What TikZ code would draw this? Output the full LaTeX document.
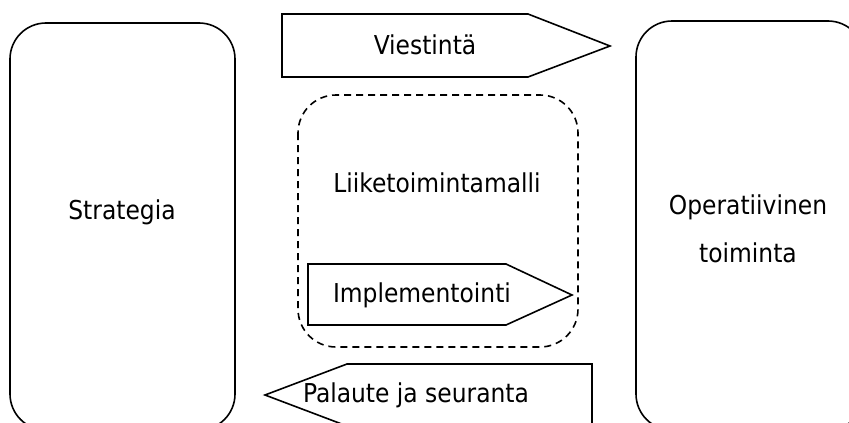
\documentclass[tikz,border=0pt]{standalone}
\usepackage{fontspec}
\setmainfont{DejaVu Sans Condensed}
\begin{document}
\begin{tikzpicture}[x=1pt,y=-1pt,
  shape line/.style={line width=1.6pt,draw=black},
  lbl/.style={font=\fontsize{26}{48}\selectfont,inner sep=0pt,align=center}]
\useasboundingbox (0,0) rectangle (849,423);
\clip (0,0) rectangle (849,423);
% left box
\draw[shape line,rounded corners=36pt] (10,23) rectangle (235,430);
% right box
\draw[shape line,rounded corners=36pt] (636,21) rectangle (864,430);
% dashed box
\draw[shape line,dashed,dash pattern=on 7pt off 5pt,rounded corners=38pt] (298,95) rectangle (578,347);
% Viestinta arrow
\draw[shape line] (282,14) -- (528,14) -- (610,46) -- (528,77) -- (282,77) -- cycle;
% Implementointi arrow
\draw[shape line] (308,264) -- (506,264) -- (572,295) -- (506,325) -- (308,325) -- cycle;
% Palaute arrow
\draw[shape line] (592,364) -- (347,364) -- (265,395) -- (347,426) -- (592,426) -- cycle;
\node[lbl] (strategia) at (122,212) {Strategia};
\node[lbl] (oper) at (748,229) {Operatiivinen\\toiminta};
\node[lbl] (malli) at (437,183) {Liiketoimintamalli};
\node[lbl] (viest) at (425,45) {Viestintä};
\node[lbl] (impl) at (422,295) {Implementointi};
\node[lbl] (pal) at (416,395) {Palaute ja seuranta};
\end{tikzpicture}
\end{document}
